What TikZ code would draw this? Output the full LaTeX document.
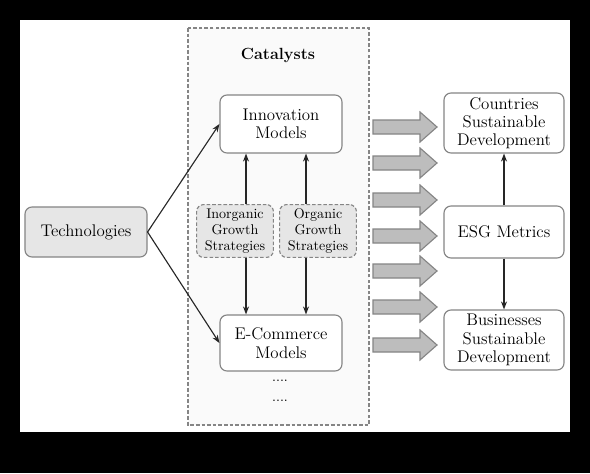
\documentclass[tikz,border=0pt]{standalone}
\usepackage{xcolor}
\definecolor{edge}{HTML}{858585}
\definecolor{shade}{HTML}{E6E6E6}
\definecolor{blockfill}{HTML}{BDBDBD}
\usepackage{tikz}
\usetikzlibrary{arrows.meta, positioning}

\begin{document}
\begin{tikzpicture}[x=0.025cm, y=-0.025cm,
    box/.style={rectangle, rounded corners=5pt, draw=edge, fill=white, thick,
                align=center, font=\fontsize{12}{13}\selectfont,
                minimum width=30.5mm, minimum height=14.5mm, inner sep=2pt},
    strat/.style={rectangle, rounded corners=5pt, draw=edge, fill=shade, thick,
                  dash pattern=on 2.5pt off 1.5pt, align=center,
                  font=\fontsize{10}{11.3}\selectfont,
                  minimum width=19.2mm, minimum height=13.2mm, inner sep=1pt},
    blk/.style={draw=edge, fill=blockfill, thick, line join=miter},
    a/.style={-{Stealth[length=2mm]}, draw=black!85, thick}]
  % frame
  \fill[black] (0,0) rectangle (590,473);
  \fill[white] (20,20) rectangle (570,432);
  \useasboundingbox (0,0) rectangle (590,473);
  % catalysts panel
  \draw[edge, thick, dash pattern=on 2.5pt off 1.5pt, fill=black!2] (188,28) rectangle (369,425);
  \node[font=\fontsize{11.5}{13}\selectfont\bfseries] (cat) at (278,55) {Catalysts};
  \node[box] (inno) at (281,124) {Innovation\\Models};
  \node[box, minimum height=14mm] (ecom) at (281,343) {E-Commerce\\Models};
  \node[strat] (inorg) at (235,231) {Inorganic\\Growth\\Strategies};
  \node[strat] (org) at (318,231) {Organic\\Growth\\Strategies};
  \node (dotsa) at (280,381) {....};
  \node (dotsb) at (280,401) {....};
  % left and right
  \node[box, fill=shade, minimum height=12.5mm] (tech) at (86,232) {Technologies};
  \node[box, minimum width=30mm, minimum height=15mm] (ctry) at (504,123) {Countries\\Sustainable\\Development};
  \node[box, minimum width=30mm, minimum height=13mm] (esg) at (504,232) {ESG Metrics};
  \node[box, minimum width=30mm, minimum height=15mm] (bus) at (504,340) {Businesses\\Sustainable\\Development};
  % connectors
  \draw[a] (tech.east) -- (inno.west);
  \draw[a] (tech.east) -- (ecom.west);
  \draw[a] ([xshift=2.75mm]inorg.north) -- ([xshift=2.75mm]inorg.north |- inno.south);
  \draw[a] ([xshift=2.75mm]inorg.south) -- ([xshift=2.75mm]inorg.south |- ecom.north);
  \draw[a] ([xshift=-3mm]org.north) -- ([xshift=-3mm]org.north |- inno.south);
  \draw[a] ([xshift=-3mm]org.south) -- ([xshift=-3mm]org.south |- ecom.north);
  \draw[a] (esg.north) -- (ctry.south);
  \draw[a] (esg.south) -- (bus.north);
  % block arrows
  \foreach \y in {127,163,200,236,271,307,345}
    \draw[blk] (373,\y-7) -- (420,\y-7) -- (420,\y-15) -- (437,\y)
               -- (420,\y+15) -- (420,\y+7) -- (373,\y+7) -- cycle;
\end{tikzpicture}
\end{document}
